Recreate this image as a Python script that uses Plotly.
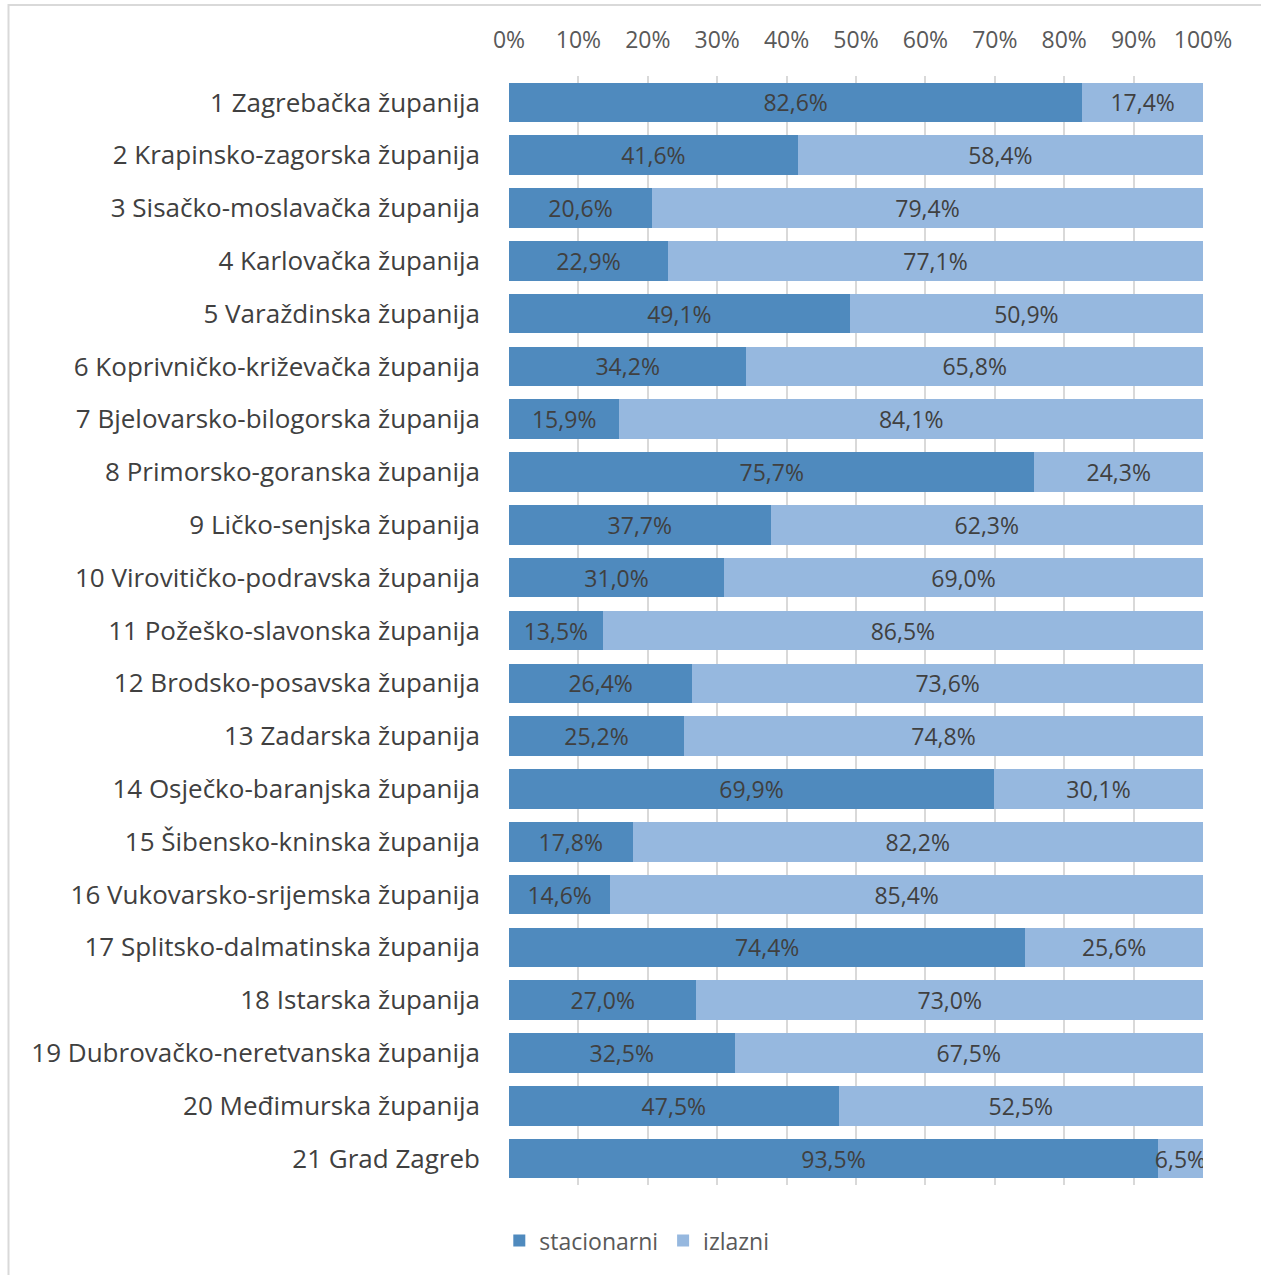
import plotly.graph_objects as go

categories = [
    "1 Zagrebačka županija",
    "2 Krapinsko-zagorska županija",
    "3 Sisačko-moslavačka županija",
    "4 Karlovačka županija",
    "5 Varaždinska županija",
    "6 Koprivničko-križevačka županija",
    "7 Bjelovarsko-bilogorska županija",
    "8 Primorsko-goranska županija",
    "9 Ličko-senjska županija",
    "10 Virovitičko-podravska županija",
    "11 Požeško-slavonska županija",
    "12 Brodsko-posavska županija",
    "13 Zadarska županija",
    "14 Osječko-baranjska županija",
    "15 Šibensko-kninska županija",
    "16 Vukovarsko-srijemska županija",
    "17 Splitsko-dalmatinska županija",
    "18 Istarska županija",
    "19 Dubrovačko-neretvanska županija",
    "20 Međimurska županija",
    "21 Grad Zagreb",
]
stacionarni = [82.6, 41.6, 20.6, 22.9, 49.1, 34.2, 15.9, 75.7, 37.7, 31.0, 13.5,
               26.4, 25.2, 69.9, 17.8, 14.6, 74.4, 27.0, 32.5, 47.5, 93.5]
izlazni = [17.4, 58.4, 79.4, 77.1, 50.9, 65.8, 84.1, 24.3, 62.3, 69.0, 86.5,
           73.6, 74.8, 30.1, 82.2, 85.4, 25.6, 73.0, 67.5, 52.5, 6.5]
tick_vals = [0, 10, 20, 30, 40, 50, 60, 70, 80, 90, 100]
tick_text = [f"{v}%" for v in tick_vals]

FONT = "Open Sans"


def fmt(v):
    return f"{v:.1f}".replace(".", ",") + "%"


fig = go.Figure()
fig.add_trace(go.Bar(
    y=categories, x=stacionarni, orientation="h", name="stacionarni",
    marker=dict(color="#4F8ABE", line=dict(width=0)),
    text=[fmt(v) for v in stacionarni], textposition="inside",
    insidetextanchor="middle", constraintext="none",
    textfont=dict(size=23, color="#404040", family=FONT),
))
fig.add_trace(go.Bar(
    y=categories, x=izlazni, orientation="h", name="izlazni",
    marker=dict(color="#96B8DF", line=dict(width=0)),
    text=[fmt(v) for v in izlazni], textposition="inside",
    insidetextanchor="middle", constraintext="none",
    textfont=dict(size=23, color="#404040", family=FONT),
))

fig.update_layout(
    barmode="stack",
    bargap=0.25,
    width=1261, height=1275,
    margin=dict(l=509, r=58, t=76, b=90),
    paper_bgcolor="white", plot_bgcolor="white",
    font=dict(family=FONT, color="#404040"),
    xaxis=dict(
        side="top", range=[0, 100], tickvals=tick_vals, ticktext=tick_text,
        showgrid=True, gridcolor="#D9D9D9", gridwidth=2,
        zeroline=False, showline=False,
        tickfont=dict(size=23, color="#595959", family=FONT),
        ticks="", ticklabelstandoff=22, fixedrange=True,
    ),
    yaxis=dict(
        autorange="reversed", showgrid=False, zeroline=False, showline=False,
        tickfont=dict(size=26, color="#404040", family=FONT),
        ticks="", ticklabelstandoff=28,
    ),
    legend=dict(
        orientation="h", xref="container", yref="container",
        x=0.505, xanchor="center", y=0.027, yanchor="middle",
        font=dict(size=23, color="#595959", family=FONT),
        traceorder="normal",
    ),
    shapes=[dict(
        type="rect", xref="paper", yref="paper",
        x0=(8.5 - 509) / 694, x1=1.2,
        y0=-0.2, y1=(1185 - 5) / 1109,
        line=dict(color="#D9D9D9", width=2), fillcolor="rgba(0,0,0,0)",
        layer="below",
    )],
)

fig.write_html("out.html", config={"displayModeBar": False},
               post_script="document.body.style.margin='0';")
